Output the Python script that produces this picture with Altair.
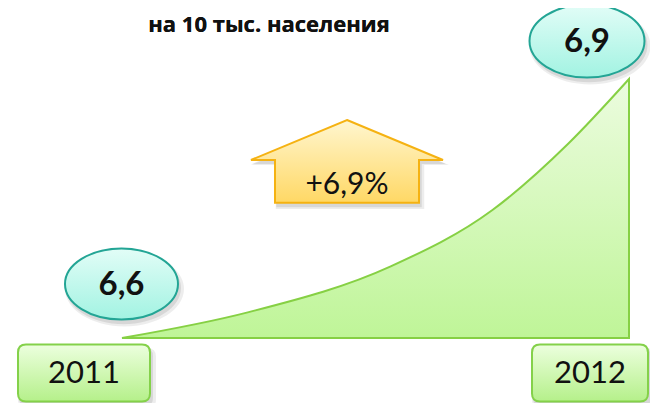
import altair as alt
import pandas as pd

# ---- data ----
years = [2011, 2012]
values = [6.6, 6.9]
value_labels = ["6,6", "6,9"]
year_labels = ["2011", "2012"]
growth_label = "+6,9%"
subtitle = "на 10 тыс. населения"
# decorative growth curve, points
curve_years = [2011, 2011.25, 2011.53, 2011.73, 2011.88, 2012]
curve_values = [6.6, 6.630, 6.683, 6.748, 6.825, 6.9]

points = pd.DataFrame({"year": years, "value": values,
                       "vlabel": value_labels, "ylabel": year_labels})
curve = pd.DataFrame({"year": curve_years, "value": curve_values})

W, H = 642, 395
XS = alt.Scale(domain=[2010.77515, 2012.04142], nice=False, zero=False)
YS = alt.Scale(domain=[6.52471, 6.98224], nice=False, zero=False)
X = alt.X("year:Q", scale=XS, axis=None)
Y = alt.Y("value:Q", scale=YS, axis=None)
YB = alt.Y("base:Q", scale=YS, axis=None)

FONT = "Lato"


def vgrad(c1, c2):
    return alt.Gradient(gradient="linear",
                        stops=[alt.GradientStop(color=c1, offset=0),
                               alt.GradientStop(color=c2, offset=1)],
                        x1=0, x2=0, y1=0, y2=1)


def ellipse_path(ratio):
    k = 0.5523
    r = ratio
    return (f"M-1,0 C-1,{-k*r:.4f} {-k:.4f},{-r:.4f} 0,{-r:.4f} "
            f"C{k:.4f},{-r:.4f} 1,{-k*r:.4f} 1,0 "
            f"C1,{k*r:.4f} {k:.4f},{r:.4f} 0,{r:.4f} "
            f"C{-k:.4f},{r:.4f} -1,{k*r:.4f} -1,0 Z")


def rrect_path(ratio, rad):
    r = ratio
    return (f"M{-1+rad:.4f},{-r:.4f} L{1-rad:.4f},{-r:.4f} Q1,{-r:.4f} 1,{-r+rad:.4f} "
            f"L1,{r-rad:.4f} Q1,{r:.4f} {1-rad:.4f},{r:.4f} "
            f"L{-1+rad:.4f},{r:.4f} Q-1,{r:.4f} -1,{r-rad:.4f} "
            f"L-1,{-r+rad:.4f} Q-1,{-r:.4f} {-1+rad:.4f},{-r:.4f} Z")


arrow_path = ("M0,-0.432 L1,-0.016 L0.75,-0.016 L0.75,0.43 "
              "L-0.75,0.43 L-0.75,-0.016 L-1,-0.016 Z")

layers = []

# growth curve (area)
layers.append(
    alt.Chart(curve).mark_area(
        interpolate="monotone",
        fill=vgrad("#ecfcdf", "#bff598"),
        stroke="#86d044", strokeWidth=2, strokeJoin="miter"
    ).encode(x=X, y=Y, y2=alt.datum(values[0]))
)


def shadowed_symbol(base, yenc, shape, w, fill, stroke, sw, xo, yo):
    out = []
    for dx, dy, op, grow in [(3, 5, 0.07, 6), (2, 4, 0.09, 2)]:
        out.append(base.mark_point(shape=shape, filled=True, fill="#000000",
                                   opacity=op, size=(w + grow) ** 2,
                                   strokeWidth=0,
                                   xOffset=xo + dx, yOffset=yo + dy).encode(x=X, y=yenc))
    out.append(base.mark_point(shape=shape, filled=True, fill=fill, opacity=1,
                               stroke=stroke, strokeWidth=sw, size=w ** 2,
                               xOffset=xo, yOffset=yo).encode(x=X, y=yenc))
    return out


# value ellipses (at each value) and year boxes (under the baseline)
ell_specs = [(-0.5, -54, 113, 71), (-42, -38, 115, 73)]
box_specs = [(-38, 35, 132, 57), (-39, 35, 116, 57)]
for i, yr in enumerate(years):
    base = alt.Chart(points).transform_joinaggregate(base="min(value)").transform_filter(
        alt.datum.year == yr)
    xo, yo, w, h = ell_specs[i]
    layers += shadowed_symbol(base, Y, ellipse_path(h / w), w, vgrad("#e2fdf7", "#a2f3e2"),
                              "#23a595", 2, xo, yo)
    layers.append(base.mark_text(
        font=FONT, fontWeight="bold", fontSize=33, color="#111111",
        xOffset=xo, yOffset=yo + 1, align="center", baseline="middle"
    ).encode(x=X, y=Y, text="vlabel:N"))

    xo, yo, w, h = box_specs[i]
    layers += shadowed_symbol(base, YB, rrect_path(h / w, 16 / w), w,
                              vgrad("#ecffde", "#b5f08a"), "#84d14a", 2, xo, yo)
    layers.append(base.mark_text(
        font=FONT, fontSize=31, color="#111111",
        xOffset=xo, yOffset=yo + 1, align="center", baseline="middle"
    ).encode(x=X, y=YB, text="ylabel:N"))

# growth arrow, placed at the midpoint of the two observations
mid = alt.Chart(points).transform_aggregate(year="mean(year)", value="mean(value)")
for dx, dy, op, grow in [(3, 5, 0.07, 6), (2, 4, 0.09, 2)]:
    layers.append(mid.mark_point(shape=arrow_path, filled=True, fill="#000000", opacity=op,
                                 size=(192 + grow) ** 2, strokeWidth=0,
                                 xOffset=-28.5 + dx, yOffset=-47 + dy).encode(x=X, y=Y))
layers.append(mid.mark_point(shape=arrow_path, filled=True, fill=vgrad("#fff6cf", "#ffd865"),
                             opacity=1, stroke="#f5b212", strokeWidth=2, size=192 ** 2,
                             xOffset=-28.5, yOffset=-47).encode(x=X, y=Y))
layers.append(mid.mark_text(font=FONT, fontSize=30, color="#111111", text=growth_label,
                            xOffset=-28.5, yOffset=-24, align="center",
                            baseline="middle").encode(x=X, y=Y))

# subtitle
layers.append(alt.Chart(points).mark_text(
    font="Open Sans", fontWeight="bold", fontSize=22, color="#111111", text=subtitle,
    align="center", baseline="alphabetic"
).encode(x=alt.value(261), y=alt.value(23.6)))

chart = alt.layer(*layers).properties(
    width=W, height=H, padding=0, autosize=alt.AutoSizeParams(type="none"),
    background="white"
).configure_view(stroke=None)

chart.save("out.html", embed_options={"renderer": "svg", "actions": False})
